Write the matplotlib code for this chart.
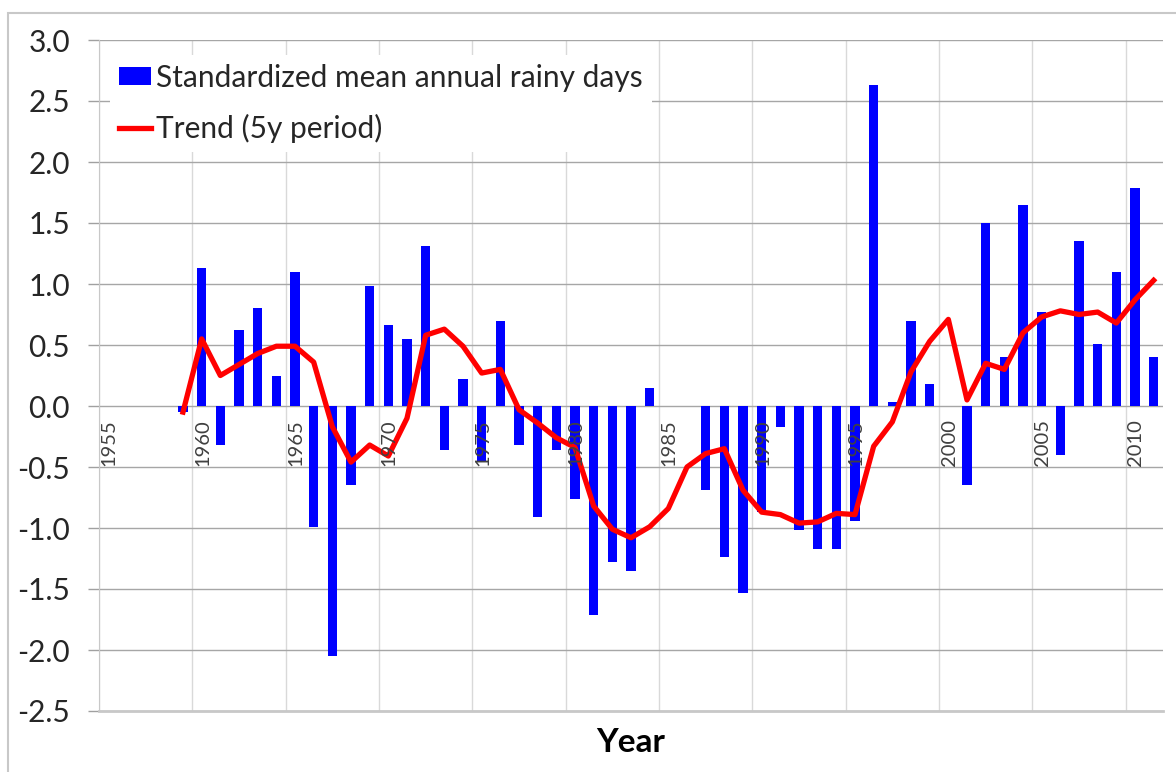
import numpy as np
import matplotlib
matplotlib.use("Agg")
import matplotlib.pyplot as plt
from matplotlib.patches import Rectangle

plt.rcParams['font.family'] = ['Lato', 'DejaVu Sans']

nan = np.nan
years = list(range(1959, 2012))
# standardized mean annual rainy days (blank years = no bar)
rainy = [-0.05, 1.13, -0.32, 0.62, 0.80, 0.25, 1.10, -0.99, -2.05, -0.65,   # 1959-1968
         0.98, 0.66, 0.55, 1.31, -0.36, 0.22, -0.45, 0.70, -0.32, -0.91,    # 1969-1978
         -0.36, -0.76, -1.71, -1.28, -1.35, 0.15, nan, nan, -0.69, -1.24,   # 1979-1988
         -1.53, -0.87, -0.17, -1.02, -1.17, -1.17, -0.94, 2.63, 0.03, 0.70, # 1989-1998
         0.18, nan, -0.65, 1.50, 0.40, 1.65, 0.77, -0.40, 1.35, 0.51,       # 1999-2008
         1.10, 1.79, 0.40]                                                  # 2009-2011
# 5 year trend
trend = [-0.05, 0.55, 0.25, 0.34, 0.43, 0.49, 0.49, 0.36, -0.17, -0.46,
         -0.32, -0.41, -0.10, 0.58, 0.63, 0.49, 0.27, 0.30, -0.03, -0.14,
         -0.26, -0.34, -0.82, -1.01, -1.08, -0.99, -0.84, -0.50, -0.39, -0.35,
         -0.69, -0.87, -0.89, -0.96, -0.95, -0.88, -0.89, -0.33, -0.13, 0.28,
         0.53, 0.71, 0.05, 0.35, 0.30, 0.60, 0.73, 0.78, 0.75, 0.77,
         0.68, 0.87, 1.03]
xlabels = ['1955', '1960', '1965', '1970', '1975', '1980', '1985',
           '1990', '1995', '2000', '2005', '2010']
yticks = [3.0, 2.5, 2.0, 1.5, 1.0, 0.5, 0.0, -0.5, -1.0, -1.5, -2.0, -2.5]

x = np.array(years) + 0.5
r = np.array(rainy)
ok = ~np.isnan(r)

fig = plt.figure(figsize=(11.76, 7.72), dpi=100)
ax = fig.add_axes([99/1176, 1 - 711/772, (1163 - 99)/1176, (711 - 40)/772])

# outer chart border
fig.patches.append(Rectangle((8/1176, -0.1), 1.2, 1.1 - 13/772, transform=fig.transFigure,
                             fill=False, edgecolor='#c8c8c8', lw=1.5))

b = ax.bar(x[ok], r[ok], width=0.5, color='#0000ff', zorder=2)
l, = ax.plot(x, trend, color='#ff0000', lw=3.8, zorder=3)

ax.set_xlim(1955, 2012)
ax.set_ylim(-2.5, 3.0)
ax.set_yticks(yticks)
ax.set_yticklabels([f'{v:.1f}' for v in yticks], fontsize=21.5, color='#262626')
ax.tick_params(axis='y', length=8, width=1, color='#a0a0a0', pad=13)
ax.set_xticks([int(s) for s in xlabels])
ax.tick_params(axis='x', length=0, labelbottom=False)

ax.set_axisbelow(True)
ax.grid(axis='y', color='#a6a6a6', lw=1)
ax.grid(axis='x', color='#d9d9d9', lw=1)

for s in ['top', 'right']:
    ax.spines[s].set_visible(False)
ax.spines['left'].set_color('#c8c8c8')
ax.spines['bottom'].set_color('#c8c8c8')
ax.spines['bottom'].set_linewidth(2)

for lab in xlabels:
    ax.text(int(lab) + 0.55, -0.11, lab, rotation=90, ha='center', va='top',
            fontsize=14.5, color='#404040')

ax.text(0.5, -0.025, 'Year', transform=ax.transAxes, ha='center', va='top',
        fontsize=24, fontweight='bold', color='#000000')

leg = ax.legend([b, l], ['Standardized mean annual rainy days', 'Trend (5y period)'],
                loc='upper left', bbox_to_anchor=(0.01, 0.978), fontsize=21.5,
                frameon=True, facecolor='white', edgecolor='none', framealpha=1,
                fancybox=False, handlelength=1.1, handleheight=0.55,
                handletextpad=0.15, labelspacing=0.75, borderpad=0.3,
                borderaxespad=0)
for t in leg.get_texts():
    t.set_color('#262626')

fig.savefig('out.png', dpi=100)
